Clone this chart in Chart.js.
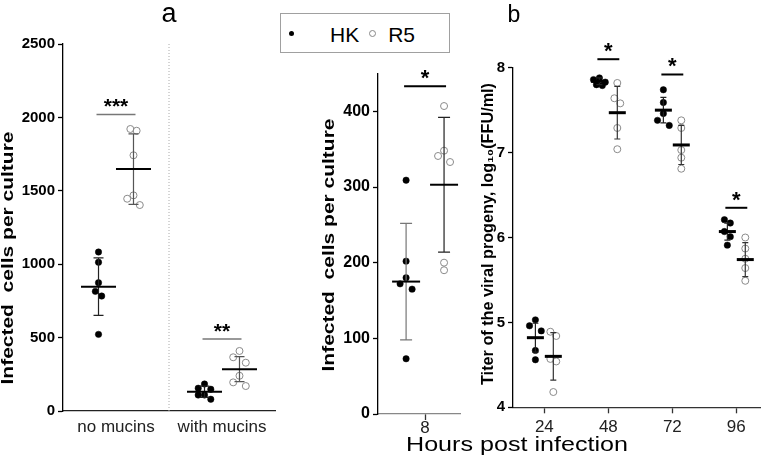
<!DOCTYPE html>
<html>
<head>
<meta charset="utf-8">
<title>Infected cells and viral progeny, HK vs R5</title>
<script src="https://cdn.jsdelivr.net/npm/chart.js@4/dist/chart.umd.min.js"></script>
<style>
  body { margin: 0; background: #fff; }
  #wrap { position: relative; width: 765px; height: 463px; overflow: hidden; }
  #wrap canvas { position: absolute; left: 0; top: 0; }
  #legend {
    position: absolute; left: 280px; top: 13px; width: 160px; height: 38px;
    border: 1px solid #a0a0a0; background: #fff;
    display: flex; align-items: center; padding-left: 8px; box-sizing: content-box;
    font: 21px 'Liberation Sans', Arial, sans-serif; color: #000;
  }
  #legend .mark { display: inline-block; border-radius: 50%; box-sizing: border-box; }
  #legend .hk { width: 5px; height: 5px; background: #000; margin-right: 36px; }
  #legend .r5 { width: 7px; height: 7px; border: 1px solid #888; margin-left: 10px; margin-right: 12px; }
  #legend span.txt { line-height: 21px; padding-top: 2px; }
</style>
</head>
<body>
<div id="wrap">
  <canvas id="panelA" width="765" height="463"></canvas>
  <canvas id="panelMid" width="765" height="463"></canvas>
  <canvas id="panelB" width="765" height="463"></canvas>
  <div id="legend"></div>
</div>
<script>
// Series
const seriesNames = ['HK', 'R5'];

// Panel a, left: infected cells per culture, with and without mucins
const groupsA = ['no mucins', 'with mucins'];
const hkA = [[1083, 1013, 874, 815, 783, 522], [184, 155, 148, 109, 109, 80]];
const r5A = [[1921, 1909, 1742, 1469, 1446, 1403], [409, 366, 329, 240, 195, 170]];
const hkMeanA = [847, 131];
const hkSdA = [196, 38];
const r5MeanA = [1648, 285];
const r5SdA = [240, 85];
const starsA = ['***', '**'];
const starLevelA = [2020, 490];

// Panel a, right: infected cells per culture at 8 h
const groupsMid = ['8'];
const hkMid = [[309, 202, 180, 172, 165, 73]];
const r5Mid = [[407, 348, 341, 333, 200, 190]];
const hkMeanMid = [175];
const hkSdMid = [77];
const r5MeanMid = [303];
const r5SdMid = [89];
const starsMid = ['*'];
const starLevelMid = [433];

// Panel b: titer of the viral progeny, log10(FFU/ml)
const hours = ['24', '48', '72', '96'];
const hkB = [[5.03, 4.96, 4.90, 4.67, 4.56], [7.88, 7.86, 7.83, 7.80, 7.79], [7.74, 7.59, 7.46, 7.38, 7.32], [6.21, 6.17, 6.07, 6.01, 5.91]];
const r5B = [[4.89, 4.84, 4.57, 4.54, 4.18], [7.82, 7.64, 7.58, 7.29, 7.04], [7.38, 7.29, 7.03, 6.94, 6.81], [6.00, 5.87, 5.75, 5.64, 5.49]];
const hkMeanB = [4.82, 7.84, 7.50, 6.07];
const hkSdB = [0.17, 0.04, 0.15, 0.10];
const r5MeanB = [4.60, 7.47, 7.09, 5.74];
const r5SdB = [0.28, 0.31, 0.23, 0.20];
const starsB = ['', '*', '*', '*'];
const starLevelB = [0, 8.10, 7.92, 6.35];

const W = 765, H = 463;
const FONT = "'Liberation Sans', Arial, sans-serif";
Chart.defaults.font.family = FONT;
Chart.defaults.color = '#000';

// Points closer than `gap` px go side by side (max 3 per row), like a column scatter
function swarm(values, pxPerY, step, gap = 7.5) {
    const offsets = [];
    let row = [];
    const flush = () => {
        const order = row.length % 2 ? [0, -1, 1] : [-0.5, 0.5];
        row.forEach((idx, k) => { offsets[idx] = order[k] * step; });
        row = [];
    };
    values.forEach((v, i) => {
        if (row.length && (row.length === 3 || Math.abs(values[i - 1] - v) * pxPerY > gap)) flush();
        row.push(i);
    });
    flush();
    return offsets;
}

// Mean bars, SD whiskers, significance marks and free text
function overlay(marks, texts, st) {
    return {
        id: 'overlay',
        afterDatasetsDraw(chart) {
            const { ctx, scales: { x, y } } = chart;
            ctx.save();
            chart.data.datasets.forEach(ds => {
                if (!ds.means) return;
                ds.means.forEach((m, i) => {
                    const cx = x.getPixelForValue(ds.centers[i]);
                    const yTop = y.getPixelForValue(m + ds.sds[i]);
                    const yBot = y.getPixelForValue(m - ds.sds[i]);
                    const ym = y.getPixelForValue(m);
                    ctx.strokeStyle = ds.errorColor;
                    ctx.lineWidth = st.errWidth;
                    ctx.beginPath();
                    ctx.moveTo(cx, yTop); ctx.lineTo(cx, yBot);
                    ctx.moveTo(cx - st.cap, yTop); ctx.lineTo(cx + st.cap, yTop);
                    ctx.moveTo(cx - st.cap, yBot); ctx.lineTo(cx + st.cap, yBot);
                    ctx.stroke();
                    ctx.strokeStyle = '#000';
                    ctx.lineWidth = st.meanWidth;
                    ctx.beginPath();
                    ctx.moveTo(cx - st.meanHalf, ym); ctx.lineTo(cx + st.meanHalf, ym);
                    ctx.stroke();
                });
            });
            marks.forEach(mk => {
                const x0 = x.getPixelForValue(mk.x0) - 2;
                const x1 = x.getPixelForValue(mk.x1) + 2;
                const ly = y.getPixelForValue(mk.y);
                ctx.strokeStyle = st.sigColor;
                ctx.lineWidth = st.sigWidth;
                ctx.beginPath();
                ctx.moveTo(x0, ly); ctx.lineTo(x1, ly);
                ctx.stroke();
                ctx.fillStyle = '#000';
                ctx.font = st.starFont;
                ctx.textAlign = 'center';
                ctx.textBaseline = 'alphabetic';
                ctx.fillText(mk.text, (x0 + x1) / 2, ly - 1);
            });
            ctx.restore();
        },
        afterDraw(chart) {
            const ctx = chart.ctx;
            texts.forEach(t => {
                ctx.save();
                ctx.translate(t.x, t.y);
                ctx.rotate(t.rotation || 0);
                ctx.font = t.font;
                ctx.fillStyle = '#000';
                ctx.textAlign = 'center';
                ctx.textBaseline = t.baseline || 'middle';
                if (t.width) ctx.scale(t.width / ctx.measureText(t.text).width, 1);
                ctx.fillText(t.text, 0, 0);
                ctx.restore();
            });
        }
    };
}

function makePanel(id, p) {
    const st = p.style;
    const pxPerX = (p.box.right - p.box.left) / (p.xMax - p.xMin);
    const pxPerY = (p.box.bottom - p.box.top) / (p.yMax - p.yMin);
    const spread = (groups, shift) => groups.flatMap((vals, g) => {
        const off = swarm(vals, pxPerY, st.step);
        return vals.map((v, i) => ({ x: p.centers[g] + shift + off[i] / pxPerX, y: v }));
    });
    const hkX = p.centers.map(c => c - p.shift);
    const r5X = p.centers.map(c => c + p.shift);
    const marks = p.stars
        .map((s, i) => ({ x0: hkX[i], x1: r5X[i], y: p.starLevels[i], text: s }))
        .filter(mk => mk.text);

    const datasets = [
        {
            label: seriesNames[0], data: spread(p.hk, -p.shift),
            centers: hkX, means: p.hkMean, sds: p.hkSd, errorColor: st.hkErr,
            pointRadius: st.r, pointBackgroundColor: '#000', pointBorderColor: '#000', pointBorderWidth: 0.5
        },
        {
            label: seriesNames[1], data: spread(p.r5, p.shift),
            centers: r5X, means: p.r5Mean, sds: p.r5Sd, errorColor: st.r5Err,
            pointRadius: st.r + 0.3, pointBackgroundColor: 'rgba(255,255,255,0)', pointBorderColor: '#8a8a8a', pointBorderWidth: 1
        }
    ];
    if (p.divider) {
        const mid = (p.centers[0] + p.centers[1]) / 2;
        datasets.push({
            label: 'divider', data: [{ x: mid, y: p.yMin }, { x: mid, y: p.yMax }],
            showLine: true, pointRadius: 0, borderColor: '#aaa', borderWidth: 1, borderDash: [1, 2]
        });
    }

    return new Chart(document.getElementById(id), {
        type: 'scatter',
        data: { datasets },
        options: {
            responsive: false,
            animation: false,
            events: [],
            layout: { padding: { left: p.box.left - p.axisW, right: W - p.box.right, top: p.box.top, bottom: 0 } },
            plugins: { legend: { display: false }, tooltip: { enabled: false } },
            scales: {
                x: {
                    type: 'linear', min: p.xMin, max: p.xMax,
                    afterBuildTicks: s => { s.ticks = p.centers.map(value => ({ value })); },
                    afterFit: s => { s.height = H - p.box.bottom; },
                    ticks: { callback: (v, i) => p.labels[i], font: { size: 17 }, color: '#222', padding: st.xPad, maxRotation: 0, autoSkip: false },
                    grid: { drawOnChartArea: false, drawTicks: st.xTicks, tickLength: 6, tickColor: '#333', tickWidth: 1.3 },
                    border: { color: st.xAxisColor, width: 1.3 }
                },
                y: {
                    min: p.yMin, max: p.yMax,
                    afterFit: s => { s.width = p.axisW; },
                    ticks: { stepSize: p.yStep, includeBounds: false, callback: v => String(v), font: { size: st.yTickSize, weight: 'bold' }, color: '#000', padding: 3 },
                    grid: { drawOnChartArea: false, tickLength: 5, tickColor: '#000', tickWidth: 1.3 },
                    border: { color: '#000', width: 1.3 }
                }
            }
        },
        plugins: [overlay(marks, p.texts, st)]
    });
}

const yTitle = 'Infected  cells per culture';

makePanel('panelA', {
    box: { left: 63, right: 275, top: 44, bottom: 411 }, axisW: 63,
    xMin: 0, xMax: 4, centers: groupsA.map((_, i) => 2 * i + 1), labels: groupsA, shift: 0.33,
    yMin: 0, yMax: 2500, yStep: 500,
    hk: hkA, r5: r5A, hkMean: hkMeanA, hkSd: hkSdA, r5Mean: r5MeanA, r5Sd: r5SdA,
    stars: starsA, starLevels: starLevelA, divider: true,
    style: {
        r: 3.2, step: 6.3, meanHalf: 17.5, meanWidth: 2, cap: 5, errWidth: 1.2,
        hkErr: '#222', r5Err: '#555', sigColor: '#777', sigWidth: 1.5,
        starFont: `bold 21px ${FONT}`, xTicks: false, xPad: 6, xAxisColor: '#222', yTickSize: 15
    },
    texts: [
        { text: 'a', x: 169, y: 22, font: `27px ${FONT}`, baseline: 'alphabetic' },
        { text: yTitle, x: 9, y: 258, rotation: -Math.PI / 2, font: `bold 16px ${FONT}`, width: 253 }
    ]
});

makePanel('panelMid', {
    box: { left: 378, right: 460, top: 73.5, bottom: 414 }, axisW: 40,
    xMin: -1.24, xMax: 0.92, centers: [0], labels: groupsMid, shift: 0.5,
    yMin: 0, yMax: 450, yStep: 100,
    hk: hkMid, r5: r5Mid, hkMean: hkMeanMid, hkSd: hkSdMid, r5Mean: r5MeanMid, r5Sd: r5SdMid,
    stars: starsMid, starLevels: starLevelMid,
    style: {
        r: 3.2, step: 6, meanHalf: 14, meanWidth: 2, cap: 6, errWidth: 1.2,
        hkErr: '#777', r5Err: '#222', sigColor: '#000', sigWidth: 2,
        starFont: `bold 22px ${FONT}`, xTicks: true, xPad: -2, xAxisColor: '#888', yTickSize: 16
    },
    texts: [
        { text: yTitle, x: 330, y: 245, rotation: -Math.PI / 2, font: `bold 16px ${FONT}`, width: 253 }
    ]
});

makePanel('panelB', {
    box: { left: 513, right: 765, top: 67.7, bottom: 407.3 }, axisW: 30,
    xMin: -0.49, xMax: 3.37, centers: hours.map((_, i) => i), labels: hours, shift: 0.14,
    yMin: 4, yMax: 8, yStep: 1,
    hk: hkB, r5: r5B, hkMean: hkMeanB, hkSd: hkSdB, r5Mean: r5MeanB, r5Sd: r5SdB,
    stars: starsB, starLevels: starLevelB,
    style: {
        r: 3.2, step: 6, meanHalf: 8.5, meanWidth: 3, cap: 3, errWidth: 1.2,
        hkErr: '#222', r5Err: '#333', sigColor: '#000', sigWidth: 2,
        starFont: `bold 22px ${FONT}`, xTicks: true, xPad: 4, xAxisColor: '#333', yTickSize: 15
    },
    texts: [
        { text: 'b', x: 514, y: 21.7, font: `23px ${FONT}`, baseline: 'alphabetic' },
        { text: 'Titer of the viral progeny, log\u2081\u2080(FFU/ml)', x: 489, y: 234, rotation: -Math.PI / 2, font: `bold 16px ${FONT}`, width: 302 },
        { text: 'Hours post infection', x: 517, y: 445, font: `20px ${FONT}`, width: 222 }
    ]
});

// Legend
const legend = document.getElementById('legend');
legend.innerHTML =
    `<span class="mark hk"></span><span class="txt">${seriesNames[0]}</span>` +
    `<span class="mark r5"></span><span class="txt">${seriesNames[1]}</span>`;
</script>
</body>
</html>
